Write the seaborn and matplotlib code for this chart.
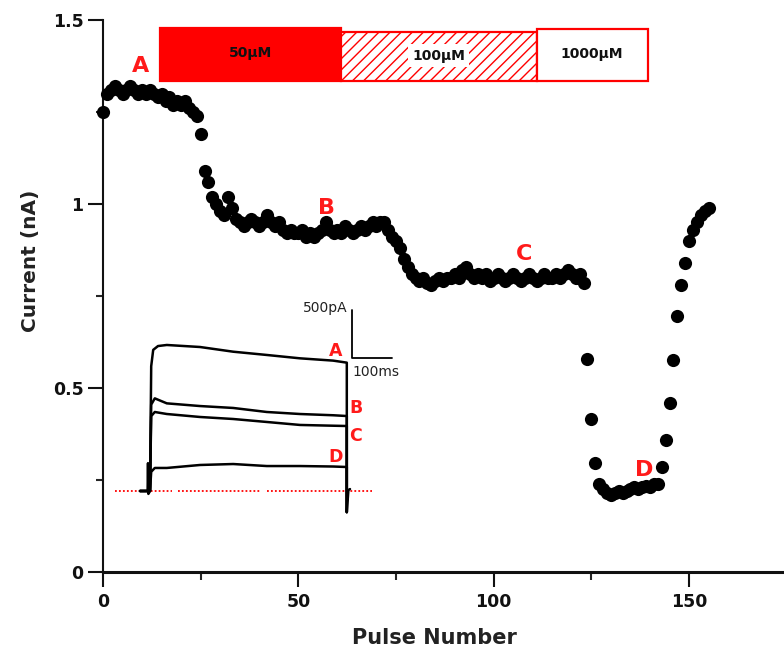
import matplotlib
matplotlib.use("Agg")
import matplotlib.pyplot as plt
import seaborn as sns
import pandas as pd

# ---------------- data ----------------
pulse = list(range(156))
current = [
    1.25,
    1.30, 1.31, 1.32, 1.31, 1.30, 1.31, 1.32, 1.31, 1.30, 1.31,
    1.30, 1.31, 1.30, 1.29, 1.30, 1.28, 1.29, 1.27, 1.28, 1.27,
    1.28, 1.26, 1.25, 1.24,
    1.19, 1.09, 1.06, 1.02, 1.00,
    0.98, 0.97, 1.02, 0.99, 0.96, 0.95, 0.94, 0.95, 0.96, 0.95,
    0.94, 0.95, 0.97, 0.95, 0.94, 0.95, 0.93, 0.92, 0.93, 0.92,
    0.92, 0.93, 0.91, 0.92, 0.91, 0.92, 0.93, 0.95, 0.93, 0.92,
    0.93, 0.92, 0.94, 0.93, 0.92, 0.93, 0.94, 0.93, 0.94, 0.95,
    0.94, 0.95, 0.95, 0.93, 0.91, 0.90, 0.88, 0.85, 0.83, 0.81,
    0.80, 0.79, 0.80, 0.785, 0.78, 0.79, 0.80, 0.79, 0.80, 0.80,
    0.81, 0.80, 0.82, 0.83, 0.81, 0.80, 0.81, 0.80, 0.81, 0.79,
    0.80, 0.81, 0.80, 0.79, 0.80, 0.81, 0.80, 0.79, 0.80, 0.81,
    0.80, 0.79, 0.80, 0.81, 0.80, 0.80, 0.81, 0.80, 0.81, 0.82,
    0.81, 0.80, 0.81, 0.785,
    0.58, 0.415, 0.295, 0.24,
    0.225, 0.215, 0.21, 0.215, 0.22, 0.215, 0.22, 0.225, 0.23, 0.225,
    0.23, 0.235, 0.23, 0.24, 0.24,
    0.285, 0.36, 0.46, 0.575, 0.695, 0.78, 0.84, 0.90, 0.93, 0.95,
    0.97, 0.98, 0.99,
]

x_ticks = [0, 50, 100, 150]
x_tick_labels = ["0", "50", "100", "150"]
y_ticks = [0, 0.5, 1.0, 1.5]
y_tick_labels = ["0", "0.5", "1", "1.5"]

conc_labels = ["50µM", "100µM", "1000µM"]
conc_start = [14.5, 60.8, 111.0]
conc_end = [60.8, 111.0, 139.4]
conc_bottom = [1.334, 1.334, 1.334]
conc_top = [1.478, 1.467, 1.476]

point_labels = ["A", "B", "C", "D"]
point_x = [9.5, 57.1, 107.8, 138.5]
point_y = [1.375, 0.989, 0.864, 0.277]

# inset current traces (time in ms, current in pA)
trace_A_t = [-25, 0, 3, 8, 20, 42, 125, 208, 292, 375, 458, 492, 492]
trace_A = [0, 0, 1300, 1470, 1510, 1521, 1500, 1451, 1417, 1382, 1358, 1337, -220]
trace_B_t = [-25, 0, 3, 12, 42, 125, 208, 292, 375, 458, 492, 492]
trace_B = [0, 0, 900, 965, 913, 885, 865, 823, 802, 789, 781, -220]
trace_C_t = [-25, 0, 3, 12, 42, 125, 208, 292, 375, 458, 492, 492]
trace_C = [0, 0, 780, 823, 802, 771, 750, 719, 688, 680, 677, -220]
trace_D_t = [-25, -6, -5, -4, 0, 3, 12, 42, 125, 208, 292, 375, 458, 492, 492, 496, 500]
trace_D = [0, 0, 290, -30, 0, 200, 240, 240, 271, 281, 260, 260, 255, 250, -220, 10, 20]
trace_label_t = [465, 515, 515, 463]
trace_label_pA = [1458, 865, 573, 354]

baseline_t_start = [-87.5, 70, 292]
baseline_t_end = [55, 275, 555]
scalebar_t = [505, 505, 605]
scalebar_pA = [1885, 1385, 1385]

# ---------------- style ----------------
sns.set_style("ticks")
plt.rcParams["font.family"] = ["DejaVu Sans"]
plt.rcParams["hatch.linewidth"] = 1.0

fig = plt.figure(figsize=(7.84, 6.47), dpi=100)
W, H = 784, 647
ax = fig.add_axes([103 / W, 1 - 572 / H, 681 / W, 552 / H])

df = pd.DataFrame({"pulse": pulse, "current": current})
sns.scatterplot(data=df, x="pulse", y="current", ax=ax, color="black",
                s=90, linewidth=0, marker="o", legend=False, clip_on=False, zorder=3)

ax.set_xlim(0, 174.3)
ax.set_ylim(0, 1.5)
ax.set_xticks(x_ticks)
ax.set_xticklabels(x_tick_labels)
ax.set_xticks([25, 75, 125], minor=True)
ax.set_yticks(y_ticks)
ax.set_yticklabels(y_tick_labels)
ax.set_yticks([0.25, 0.75, 1.25], minor=True)
ax.tick_params(axis="x", which="major", length=11, width=1.5, pad=4,
               labelsize=12.5, colors="#111111")
ax.tick_params(axis="x", which="minor", length=6, width=1.5)
ax.tick_params(axis="y", which="major", length=11, width=1.5, pad=3,
               labelsize=12.5, colors="#111111")
ax.tick_params(axis="y", which="minor", length=5, width=1.5)
for lab in ax.get_xticklabels() + ax.get_yticklabels():
    lab.set_fontweight("bold")

sns.despine(ax=ax)
ax.spines["left"].set_linewidth(1.5)
ax.spines["bottom"].set_linewidth(2.2)
ax.spines["left"].set_color("#111111")
ax.spines["bottom"].set_color("#111111")

ax.set_xlabel("Pulse Number", fontsize=15, fontweight="bold", color="#222222")
ax.xaxis.set_label_coords(0.486, -0.101)
ax.set_ylabel("Current (nA)", fontsize=14.5, fontweight="bold", color="#222222")
ax.yaxis.set_label_coords(-0.093, 0.563)

# concentration bars
styles = [dict(color="red", edgecolor="red", hatch=None),
          dict(color="white", edgecolor="red", hatch="///"),
          dict(color="white", edgecolor="red", hatch=None)]
for lab, s0, s1, b0, b1, st in zip(conc_labels, conc_start, conc_end,
                                   conc_bottom, conc_top, styles):
    ax.barh(y=(b0 + b1) / 2, width=s1 - s0, left=s0, height=b1 - b0,
            color=st["color"], edgecolor=st["edgecolor"], hatch=st["hatch"],
            linewidth=1.6, zorder=2, clip_on=False)
    ax.text((s0 + s1) / 2, (b0 + b1) / 2 + 0.003, lab, ha="center", va="center",
            fontsize=10, fontweight="bold", color="#111111", zorder=4,
            bbox=dict(facecolor="white", edgecolor="none", pad=3) if st["hatch"] else None)

for lab, px, py in zip(point_labels, point_x, point_y):
    ax.text(px, py, lab, ha="center", va="center", fontsize=16,
            fontweight="bold", color="#ff1a1a", zorder=4)

# ---------------- inset ----------------
axin = fig.add_axes([110 / W, 1 - 519.8 / H, 310 / W, 220.8 / H])
axin.set_xlim(-100, 675)
axin.set_ylim(-300, 2000)
axin.axis("off")
axin.patch.set_alpha(0)

for tt, yy in [(trace_A_t, trace_A), (trace_B_t, trace_B),
               (trace_C_t, trace_C), (trace_D_t, trace_D)]:
    sns.lineplot(x=tt, y=yy, ax=axin, sort=False, estimator=None,
                 color="black", linewidth=1.8)

axin.hlines([0] * len(baseline_t_start), baseline_t_start, baseline_t_end,
            colors="red", linestyles=(0, (1, 1.2)), linewidth=1.3, zorder=0)
sns.lineplot(x=scalebar_t, y=scalebar_pA, ax=axin, sort=False, estimator=None,
             color="black", linewidth=1.3)
axin.text(scalebar_t[0] - 10, scalebar_pA[0] + 20, "500pA", ha="right",
          va="center", fontsize=10, color="#222222")
axin.text(scalebar_t[1], scalebar_pA[1] - 145, "100ms", ha="left",
          va="center", fontsize=10, color="#222222")
for lab, tt, yy in zip(point_labels, trace_label_t, trace_label_pA):
    axin.text(tt, yy, lab, ha="center", va="center", fontsize=12.5,
              fontweight="bold", color="#ff1a1a")

fig.savefig("out.png", dpi=100)
